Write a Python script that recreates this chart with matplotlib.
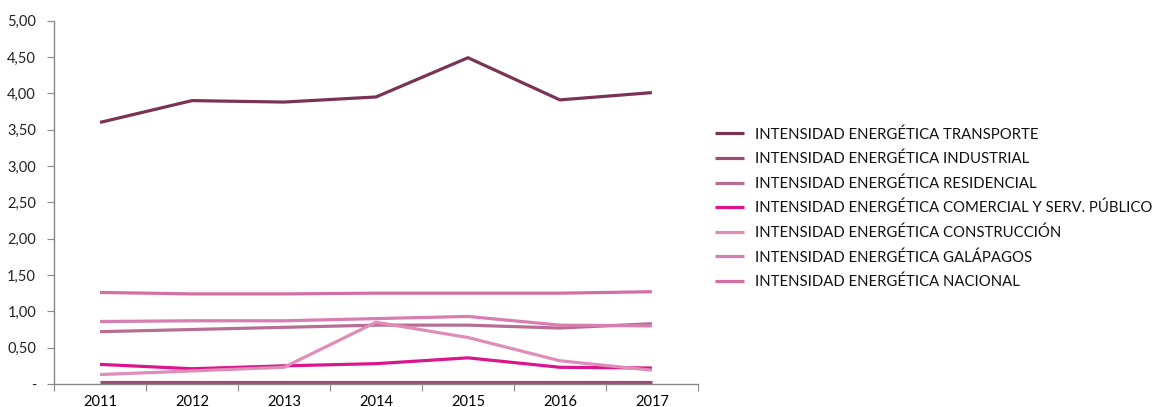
import matplotlib
matplotlib.use("Agg")
import matplotlib.pyplot as plt
from matplotlib.ticker import FixedLocator, FuncFormatter

plt.rcParams['font.family'] = ['Lato', 'DejaVu Sans']

years = ["2011", "2012", "2013", "2014", "2015", "2016", "2017"]

transporte = [3.60, 3.90, 3.88, 3.95, 4.49, 3.91, 4.01]
industrial = [0.03, 0.03, 0.03, 0.03, 0.03, 0.03, 0.03]
residencial = [0.72, 0.75, 0.78, 0.81, 0.81, 0.77, 0.83]
comercial = [0.27, 0.21, 0.25, 0.28, 0.36, 0.23, 0.22]
construccion = [0.13, 0.18, 0.23, 0.85, 0.64, 0.32, 0.19]
galapagos = [0.86, 0.87, 0.87, 0.90, 0.93, 0.81, 0.80]
nacional = [1.26, 1.24, 1.24, 1.25, 1.25, 1.25, 1.27]

series = [
    ("INTENSIDAD ENERGÉTICA TRANSPORTE", transporte, "#7b3355"),
    ("INTENSIDAD ENERGÉTICA INDUSTRIAL", industrial, "#9c4c72"),
    ("INTENSIDAD ENERGÉTICA RESIDENCIAL", residencial, "#b86e94"),
    ("INTENSIDAD ENERGÉTICA COMERCIAL Y SERV. PÚBLICO", comercial, "#db168c"),
    ("INTENSIDAD ENERGÉTICA CONSTRUCCIÓN", construccion, "#e08cb9"),
    ("INTENSIDAD ENERGÉTICA GALÁPAGOS", galapagos, "#d87db0"),
    ("INTENSIDAD ENERGÉTICA NACIONAL", nacional, "#d46fa6"),
]

fig = plt.figure(figsize=(11.6, 4.07), dpi=100)
ax = fig.add_axes([0.0466, 0.0565, 0.555, 0.8927])

x = list(range(len(years)))
for label, vals, color in series:
    ax.plot(x, vals, color=color, lw=2.3, label=label, solid_capstyle="butt")

ax.set_xlim(-0.5, len(years) - 0.5)
ax.set_ylim(0, 5)
ax.yaxis.set_major_locator(FixedLocator([0, 0.5, 1, 1.5, 2, 2.5, 3, 3.5, 4, 4.5, 5]))
ax.yaxis.set_major_formatter(FuncFormatter(
    lambda v, p: "-" if abs(v) < 1e-9 else f"{v:.2f}".replace(".", ",")))

ax.set_xticks([i - 0.5 for i in range(len(years) + 1)])
ax.set_xticklabels([])
ax.set_xticks(x, minor=True)
ax.set_xticklabels(years, minor=True)
ax.tick_params(axis="x", which="minor", length=0, pad=8, labelsize=10.5, colors="#000000")
ax.tick_params(axis="x", which="major", length=5, color="#888888")
ax.tick_params(axis="y", length=5, color="#888888", labelsize=10.5, pad=8, labelcolor="#222222")

for side in ("top", "right"):
    ax.spines[side].set_visible(False)
for side in ("left", "bottom"):
    ax.spines[side].set_color("#888888")
    ax.spines[side].set_linewidth(1.0)

leg = fig.legend(loc="upper left", bbox_to_anchor=(0.611, 0.7025), frameon=False,
                 fontsize=10.7, handlelength=2.0, handletextpad=0.7,
                 labelspacing=0.68, borderaxespad=0)
for t in leg.get_texts():
    t.set_color("#111111")

fig.savefig("out.png", dpi=100)
